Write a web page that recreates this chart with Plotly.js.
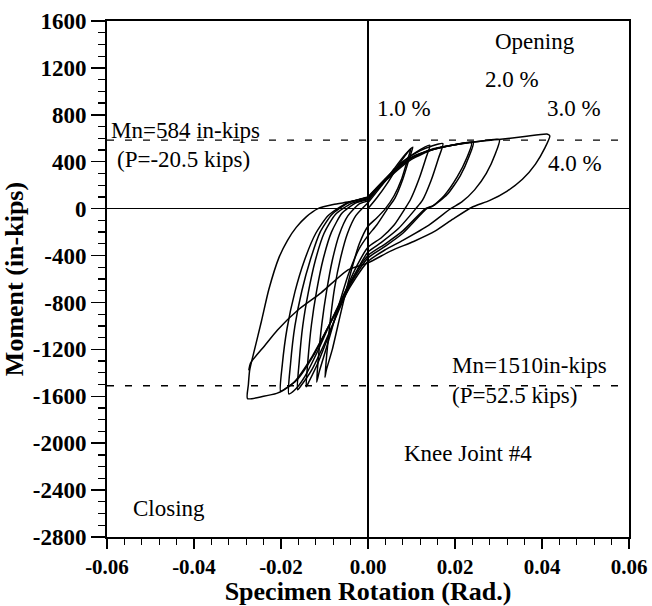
<!DOCTYPE html>
<html><head><meta charset="utf-8">
<script src="https://cdn.plot.ly/plotly-3.0.1.min.js"></script>
<style>html,body{margin:0;padding:0;background:#fff}#chart{width:652px;height:606px}</style>
</head><body><div id="chart"></div>
<script>
// ---- Data (rotation in rad, moment in in-kips) ----
const cycAX = [0, 0.002, 0.0045, 0.007, 0.0085, 0.0099, 0.0092, 0.0078, 0.006, 0.004, 0.002, 0, -0.002, -0.004, -0.0062, -0.0082, -0.0096, -0.0099, -0.0095, -0.0087, -0.0077, -0.0063, -0.0047, -0.0028, 0];
const cycAY = [0, 90, 220, 370, 450, 515, 430, 260, 110, 0, -80, -150, -300, -550, -880, -1200, -1380, -1440, -1250, -960, -680, -420, -210, -60, 50];

const cycBX = [0, 0.003, 0.006, 0.0085, 0.0103, 0.0095, 0.008, 0.0062, 0.0045, 0.002, 0, -0.002, -0.0045, -0.007, -0.0095, -0.0112, -0.0118, -0.0114, -0.0106, -0.0095, -0.0082, -0.0066, -0.0046, -0.002, 0];
const cycBY = [50, 190, 340, 460, 525, 430, 250, 90, 0, -140, -230, -340, -560, -860, -1180, -1390, -1480, -1270, -980, -700, -440, -220, -60, 40, 65];

const cycCX = [0, 0.004, 0.008, 0.011, 0.0142, 0.0133, 0.0117, 0.0098, 0.0085, 0.006, 0.003, 0, -0.003, -0.006, -0.009, -0.0118, -0.0135, -0.0142, -0.0138, -0.013, -0.0118, -0.0103, -0.0084, -0.006, -0.003, 0];
const cycCY = [65, 250, 400, 480, 540, 430, 250, 80, 0, -140, -250, -330, -520, -780, -1080, -1340, -1470, -1520, -1290, -990, -700, -430, -200, -40, 45, 75];

const cycDX = [0, 0.004, 0.008, 0.012, 0.0172, 0.0162, 0.0145, 0.0125, 0.011, 0.007, 0.003, 0, -0.003, -0.0065, -0.01, -0.013, -0.0152, -0.0162, -0.0158, -0.015, -0.0137, -0.0121, -0.0101, -0.0075, -0.0038, 0];
const cycDY = [75, 250, 400, 495, 555, 430, 240, 70, 0, -170, -290, -370, -560, -850, -1150, -1380, -1500, -1545, -1300, -1000, -710, -440, -210, -50, 45, 85];

const cycEX = [0, 0.005, 0.01, 0.015, 0.02, 0.0242, 0.0233, 0.0212, 0.0182, 0.015, 0.0132, 0.008, 0.004, 0, -0.004, -0.008, -0.0115, -0.0145, -0.0168, -0.0182, -0.0178, -0.0168, -0.0152, -0.0132, -0.011, -0.0083, -0.0045, 0];
const cycEY = [85, 270, 420, 505, 545, 565, 450, 280, 120, 25, 0, -190, -300, -400, -620, -920, -1210, -1430, -1545, -1580, -1320, -1000, -700, -430, -200, -50, 50, 95];

const cycFX = [0, 0.005, 0.01, 0.015, 0.02, 0.0238, 0.0228, 0.0205, 0.0175, 0.0148, 0.0135, 0.008, 0.004, 0, -0.004, -0.0085, -0.0125, -0.0163, -0.019, -0.0201, -0.0197, -0.0186, -0.0168, -0.0146, -0.012, -0.0092, -0.005, 0];
const cycFY = [95, 280, 430, 510, 545, 560, 440, 270, 110, 20, 0, -210, -320, -420, -640, -960, -1250, -1460, -1535, -1556, -1330, -1020, -710, -440, -210, -60, 45, 100];

const cycGX = [0, 0.005, 0.01, 0.015, 0.02, 0.025, 0.0302, 0.0293, 0.0272, 0.0245, 0.0215, 0.019, 0.014, 0.008, 0.004, 0, -0.004, -0.009, -0.013, -0.017, -0.0195, -0.021, -0.024, -0.0277, -0.0275, -0.0272, -0.0261, -0.0245, -0.0228, -0.0205, -0.0185, -0.0165, -0.0142, -0.0115, -0.008, -0.004, 0];
const cycGY = [100, 290, 435, 505, 545, 570, 590, 470, 300, 160, 55, 0, -140, -270, -350, -450, -660, -1000, -1270, -1480, -1550, -1575, -1600, -1620, -1500, -1377, -1205, -960, -690, -420, -270, -160, -70, 0, 35, 60, 95];

const cycHX = [0, 0.005, 0.01, 0.015, 0.0228, 0.0305, 0.036, 0.0413, 0.0418, 0.0407, 0.0385, 0.0355, 0.032, 0.028, 0.0238, 0.0195, 0.0155, 0.0105, 0.0053, 0, -0.0046, -0.0108, -0.0161, -0.0208, -0.0238, -0.027, -0.0274];
const cycHY = [95, 290, 440, 505, 564, 592, 615, 635, 620, 520, 380, 250, 150, 70, 10, -90, -190, -280, -360, -462, -522, -718, -864, -1035, -1171, -1317, -1380];

const mnOpening = 584;    // in-kips
const mnClosing = -1510;  // in-kips

const xTickVals = [-0.06, -0.04, -0.02, 0, 0.02, 0.04, 0.06];
const xTickText = ["-0.06", "-0.04", "-0.02", "0.00", "0.02", "0.04", "0.06"];
const yTickVals = [-2800, -2400, -2000, -1600, -1200, -800, -400, 0, 400, 800, 1200, 1600];
const yTickText = ["-2800", "-2400", "-2000", "-1600", "-1200", "-800", "-400", "0", "400", "800", "1200", "1600"];

// ---- Build ----
const SERIF = "Liberation Serif, Times New Roman, serif";
const cycles = [[cycAX, cycAY], [cycBX, cycBY], [cycCX, cycCY], [cycDX, cycDY], [cycEX, cycEY], [cycFX, cycFY], [cycGX, cycGY], [cycHX, cycHY]];
const traces = cycles.map(c => ({
  x: c[0], y: c[1], mode: 'lines', hoverinfo: 'skip', showlegend: false,
  line: {color: '#000', width: 1.5, shape: 'spline', smoothing: 0.6}
}));
[mnOpening, mnClosing].forEach(v => traces.push({
  x: [-0.06, 0.06], y: [v, v], mode: 'lines', hoverinfo: 'skip', showlegend: false,
  line: {color: '#000', width: 1.4, dash: '7px,11px'}
}));

const annFont = {family: SERIF, size: 23, color: '#000'};
const ann = (text, x, y, xa) => ({text, x, y, xref: 'x', yref: 'y', showarrow: false, font: annFont, xanchor: xa || 'center', yanchor: 'middle'});

const layout = {
  width: 652, height: 606,
  margin: {l: 107, r: 23, t: 21, b: 69},
  paper_bgcolor: '#fff', plot_bgcolor: '#fff',
  showlegend: false,
  xaxis: {
    range: [-0.06, 0.06], tickmode: 'array', tickvals: xTickVals, ticktext: xTickText,
    ticks: 'outside', ticklen: 10, tickwidth: 1.5, tickcolor: '#000',
    minor: {tickmode: 'linear', tick0: -0.06, dtick: 0.004, ticks: 'outside', ticklen: 6, tickwidth: 1.2, tickcolor: '#000', showgrid: false},
    showline: true, linewidth: 2, linecolor: '#000', mirror: true,
    zeroline: true, zerolinecolor: '#000', zerolinewidth: 1.4, showgrid: false,
    tickfont: {family: SERIF, size: 21, color: '#000', weight: 'bold'},
    title: {text: 'Specimen Rotation (Rad.)', font: {family: SERIF, size: 26, color: '#000', weight: 'bold'}, standoff: 6}
  },
  yaxis: {
    range: [-2800, 1600], tickmode: 'array', tickvals: yTickVals, ticktext: yTickText,
    ticks: 'outside', ticklen: 14, tickwidth: 1.5, tickcolor: '#000',
    minor: {tickmode: 'linear', tick0: -2800, dtick: 100, ticks: 'outside', ticklen: 7, tickwidth: 1.2, tickcolor: '#000', showgrid: false},
    showline: true, linewidth: 2, linecolor: '#000', mirror: true,
    zeroline: true, zerolinecolor: '#000', zerolinewidth: 1.4, showgrid: false,
    tickfont: {family: SERIF, size: 23, color: '#000', weight: 'bold'},
    title: {text: 'Moment (in-kips)', font: {family: SERIF, size: 26, color: '#000', weight: 'bold'}, standoff: 4}
  },
  annotations: [
    ann('Opening', 0.0385, 1421),
    ann('2.0 %', 0.033, 1097),
    ann('1.0 %', 0.0083, 858),
    ann('3.0 %', 0.0473, 858),
    ann('4.0 %', 0.0475, 389),
    ann('Mn=584 in-kips', -0.042, 670),
    ann('(P=-20.5 kips)', -0.0424, 415),
    ann('Mn=1510in-kips', 0.0189, -1340, 'left'),
    ann('(P=52.5 kips)', 0.0189, -1590, 'left'),
    ann('Knee Joint #4', 0.0231, -2084),
    ann('Closing', -0.0457, -2553)
  ]
};
Plotly.newPlot('chart', traces, layout, {staticPlot: true, displayModeBar: false});
</script></body></html>
